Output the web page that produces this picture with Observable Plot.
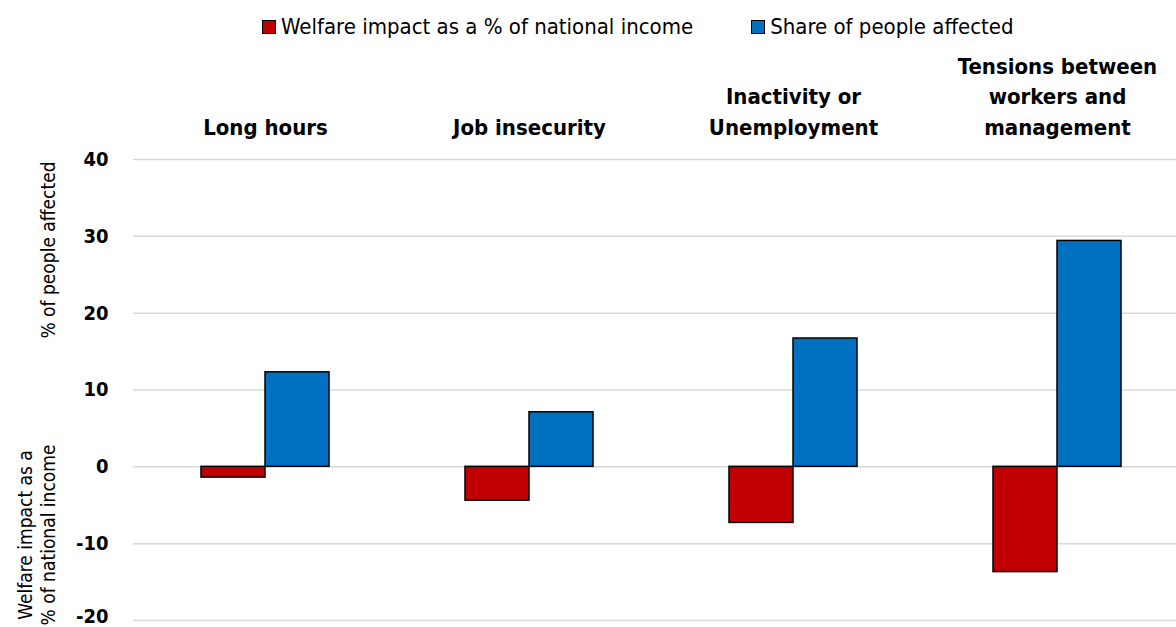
<!DOCTYPE html>
<html>
<head>
<meta charset="utf-8">
<script src="https://cdn.jsdelivr.net/npm/d3@7"></script>
<script src="https://cdn.jsdelivr.net/npm/@observablehq/plot@0.6"></script>
<style>
  html, body { margin: 0; padding: 0; background: #fff; overflow: hidden; }
  #wrap { position: relative; width: 1176px; height: 627px; overflow: hidden;
    font-family: "Liberation Sans Narrow", "Arial Narrow", "DejaVu Sans Condensed", sans-serif; }
  #legend { position: absolute; left: 262px; top: 14px; display: flex; align-items: center; font-size: 22px; color: #000; white-space: nowrap; }
  .item { display: flex; align-items: center; }
  .item + .item { margin-left: 58px; }
  .sw { width: 12px; height: 12px; border: 1.5px solid #000; margin-right: 5px; }
  #chart { position: absolute; left: 0; top: 50px; width: 1190px; }
  #chart svg { max-width: none !important; }
  .ylab { position: absolute; transform: translate(-50%, -50%) rotate(-90deg); white-space: nowrap; text-align: center; font-size: 19px; line-height: 23px; color: #000; }
</style>
</head>
<body>
<div id="wrap">
  <div id="legend"></div>
  <div id="chart"></div>
  <div class="ylab" style="left:48px; top:250px;">% of people affected</div>
  <div class="ylab" style="left:37px; top:535px;">Welfare impact as a<br>% of national income</div>
</div>
<script>
const categories = ["Long hours", "Job insecurity", "Inactivity or\nUnemployment", "Tensions between\nworkers and\nmanagement"];
const series = ["Welfare impact as a % of national income", "Share of people affected"];
const welfare = [-1.4, -4.4, -7.3, -13.7];
const share = [12.3, 7.1, 16.7, 29.4];
const yTicks = [-20, -10, 0, 10, 20, 30, 40];
const colors = ["#C00000", "#0070C0"];

const rows = [];
categories.forEach((c, i) => {
  rows.push({category: c, series: series[0], value: welfare[i]});
  rows.push({category: c, series: series[1], value: share[i]});
});

// legend
const legend = document.getElementById("legend");
series.forEach((s, i) => {
  const it = document.createElement("div");
  it.className = "item";
  const sw = document.createElement("div");
  sw.className = "sw";
  sw.style.background = colors[i];
  const tx = document.createElement("span");
  tx.textContent = s;
  it.appendChild(sw); it.appendChild(tx);
  legend.appendChild(it);
});

const bottomTick = yTicks.slice(0, 1);
const otherTicks = yTicks.slice(1);

const chart = Plot.plot({
  width: 1190,
  height: 582,
  marginLeft: 133,
  marginRight: 1,
  marginTop: 109,
  marginBottom: 12,
  style: {fontFamily: '"Liberation Sans Narrow", "Arial Narrow", "DejaVu Sans Condensed", sans-serif', color: "#000", background: "transparent", overflow: "visible", maxWidth: "none"},
  fx: {domain: categories, padding: 0, axis: null, label: null},
  x: {domain: series, paddingInner: 0, paddingOuter: 1.0625, axis: null},
  y: {domain: [-20, 40], axis: null},
  color: {domain: series, range: colors},
  marks: [
    Plot.gridY(yTicks, {stroke: "#d9d9d9", strokeOpacity: 1, strokeWidth: 1.5}),
    Plot.axisY(otherTicks, {tickSize: 0, tickPadding: 25, fontSize: 20, fontWeight: "bold", tickFormat: d => String(d), label: null}),
    Plot.axisY(bottomTick, {tickSize: 0, tickPadding: 25, fontSize: 20, fontWeight: "bold", dy: -4, tickFormat: d => String(d), label: null}),
    Plot.axisFx({anchor: "top", tickSize: 0, tickPadding: 25, fontSize: 22, fontWeight: "bold", lineHeight: 1.38, label: null}),
    Plot.barY(rows, {fx: "category", x: "series", y: "value", fill: "series", stroke: "#000", strokeWidth: 1.5})
  ]
});
document.getElementById("chart").appendChild(chart);
</script>
</body>
</html>
